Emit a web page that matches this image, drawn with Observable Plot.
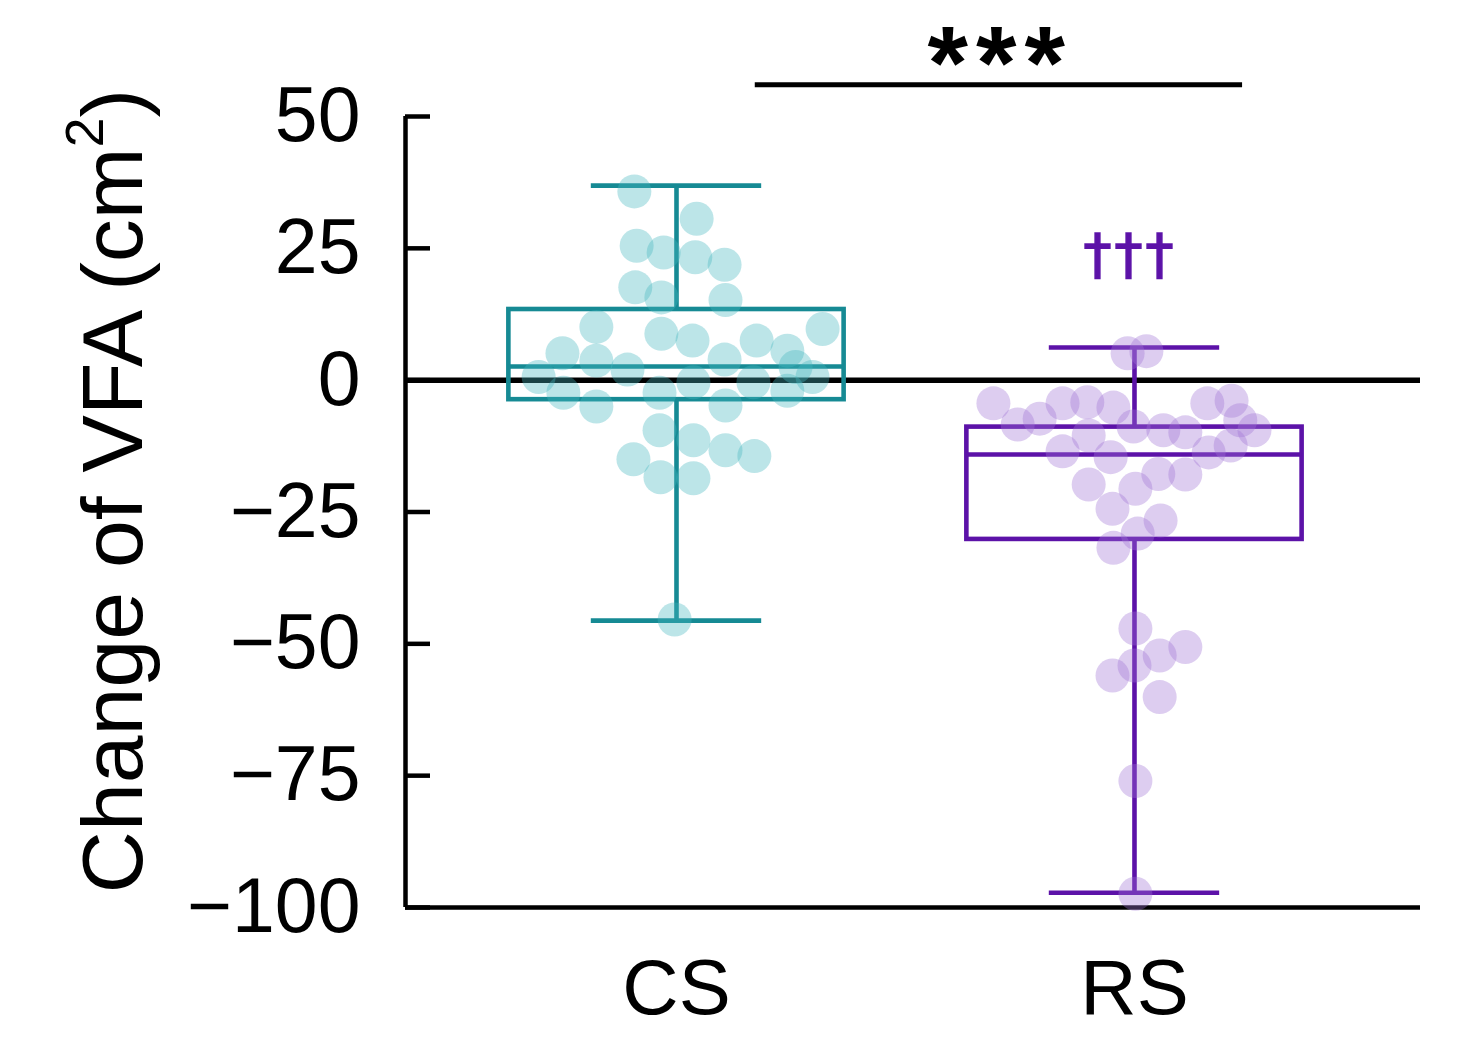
<!DOCTYPE html>
<html>
<head>
<meta charset="utf-8">
<script src="https://cdn.jsdelivr.net/npm/d3@7"></script>
<script src="https://cdn.jsdelivr.net/npm/@observablehq/plot@0.6"></script>
<style>
  html, body { margin: 0; padding: 0; background: #fff; }
  #chart svg { display: block; }
</style>
</head>
<body>
<div id="chart"></div>
<script>
// ---- data ----
const groups = ["CS", "RS"];

const csValues = [35.8, 30.6, 25.5, 24.2, 23.3, 21.9, 17.6, 15.7, 15.2, 10.1,
  8.8, 9.7, 7.5, 7.5, 5.1, 3.7, 5.6, 2.0, 3.9, 0.6,
  2.5, 0.6, -0.4, -2.4, -2.4, -5.0, -4.8, -0.4, -2.0, -9.5,
  -11.4, -13.3, -14.4, -15.0, -18.4, -18.6, -45.4];
const csJitter = [-0.092, 0.044, -0.087, -0.028, 0.041, 0.105, -0.090, -0.033, 0.107, -0.175,
  -0.033, 0.319, 0.035, 0.175, -0.249, -0.175, 0.242, -0.107, 0.105, -0.301,
  0.260, 0.297, 0.037, -0.037, -0.247, -0.175, 0.107, 0.168, 0.242, -0.037,
  0.037, 0.107, 0.170, -0.094, -0.035, 0.037, -0.004];

const rsValues = [5.1, 5.5, -4.4, -8.4, -7.3, -4.4, -4.2, -5.2, -10.5, -13.5,
  -8.8, -9.5, -9.9, -4.4, -3.9, -7.6, -9.5, -14.6, -13.7, -12.4,
  -17.8, -17.9, -19.8, -20.6, -24.4, -26.6, -29.1, -31.8, -47.1, -50.6,
  -52.2, -54.1, -56.0, -60.1, -76.0, -97.4];
const rsJitter = [-0.015, 0.026, -0.308, -0.255, -0.207, -0.157, -0.103, -0.046, -0.100, -0.157,
  -0.002, 0.063, 0.111, 0.159, 0.212, 0.231, 0.262, -0.052, 0.162, 0.210,
  0.052, 0.111, -0.100, 0.002, -0.048, 0.057, 0.007, -0.046, 0.002, 0.111,
  0.055, 0.000, -0.048, 0.055, 0.002, 0.002];

const boxQ1 = [-3.7, -30.2];
const boxMedian = [2.6, -14.1];
const boxQ3 = [13.4, -8.9];
const whiskerMin = [-45.6, -97.2];
const whiskerMax = [36.9, 6.2];

const yTicks = [50, 25, 0, -25, -50, -75, -100];
const sigText = "***";
const groupMark = "†††";

// ---- styles ----
const strokeColors = ["#168a94", "#5c12a8"];
const dotColors = ["#46b8c0", "#a074d6"];
const font = "'Liberation Sans', Arial, Helvetica, sans-serif";
const boxHalf = 0.366, capHalf = 0.186;
const xDomain = [0.4083, 2.6245];
const lw = 4.6;

const boxes = groups.map((g, i) => ({
  group: g, pos: i + 1, q1: boxQ1[i], med: boxMedian[i], q3: boxQ3[i],
  lo: whiskerMin[i], hi: whiskerMax[i]
}));
const points = [
  ...csValues.map((v, j) => ({group: "CS", pos: 1 + csJitter[j], value: v})),
  ...rsValues.map((v, j) => ({group: "RS", pos: 2 + rsJitter[j], value: v}))
];

const groupMarks = groups.flatMap((g, i) => {
  const b = boxes.filter(d => d.group === g);
  const p = points.filter(d => d.group === g);
  const s = strokeColors[i];
  return [
    Plot.ruleX(b, {x: "pos", y1: "q3", y2: "hi", stroke: s, strokeWidth: lw}),
    Plot.ruleX(b, {x: "pos", y1: "lo", y2: "q1", stroke: s, strokeWidth: lw}),
    Plot.ruleY(b, {x1: d => d.pos - capHalf, x2: d => d.pos + capHalf, y: "hi", stroke: s, strokeWidth: lw}),
    Plot.ruleY(b, {x1: d => d.pos - capHalf, x2: d => d.pos + capHalf, y: "lo", stroke: s, strokeWidth: lw}),
    Plot.rect(b, {x1: d => d.pos - boxHalf, x2: d => d.pos + boxHalf, y1: "q1", y2: "q3", stroke: s, fill: "none", strokeWidth: lw}),
    Plot.ruleY(b, {x1: d => d.pos - boxHalf, x2: d => d.pos + boxHalf, y: "med", stroke: s, strokeWidth: lw}),
    Plot.dot(p, {x: "pos", y: "value", r: 17, fill: dotColors[i], fillOpacity: 0.36, stroke: "none"})
  ];
});

const chart = Plot.plot({
  width: 1484,
  height: 1060,
  marginLeft: 405,
  marginRight: 64,
  marginTop: 116,
  marginBottom: 153,
  style: {fontFamily: font, background: "white", color: "black"},
  x: {domain: xDomain, axis: null},
  y: {domain: [-100, 50], axis: null},
  marks: [
    Plot.ruleY([0], {stroke: "black", strokeWidth: 5.5}),
    Plot.ruleX([xDomain[0]], {y1: -100, y2: 50, stroke: "black", strokeWidth: 4.5}),
    Plot.ruleY([-100], {stroke: "black", strokeWidth: 4.5}),
    Plot.axisY({ticks: yTicks, tickFormat: d3.format("d"), tickSize: -25, tickPadding: 70,
      fontSize: 77, strokeWidth: 4.5, label: null}),
    Plot.axisX({ticks: [1, 2], tickFormat: d => groups[d - 1], tickSize: 0, tickPadding: 51,
      fontSize: 78, label: null}),
    ...groupMarks,
    Plot.ruleY([56], {x1: 1.172, x2: 2.236, stroke: "black", strokeWidth: 5}),
    Plot.text([sigText], {x: 1.707, y: 59.6, text: d => d, fontSize: 104, fontWeight: "bold", fill: "black", className: "sig"}),
    Plot.text([groupMark], {x: 1.99, y: 23.8, text: d => d, fontSize: 56, fill: strokeColors[1],
      fontFamily: "'DejaVu Sans', sans-serif", className: "dag"})
  ]
});

const svg = d3.select(chart);
svg.selectAll(".sig text").attr("letter-spacing", 8);
svg.selectAll(".dag text").attr("letter-spacing", 3).attr("stroke", strokeColors[1]).attr("stroke-width", 1.5);

// y-axis title with a real superscript
const t = svg.append("text")
  .attr("transform", "translate(142,491) rotate(-90)")
  .attr("text-anchor", "middle")
  .attr("font-family", font)
  .attr("font-size", 86)
  .attr("fill", "black");
t.append("tspan").text("Change of VFA (cm");
t.append("tspan").attr("font-size", 54).attr("dy", -39).text("2");
t.append("tspan").attr("dy", 39).text(")");

document.getElementById("chart").appendChild(chart);
</script>
</body>
</html>
